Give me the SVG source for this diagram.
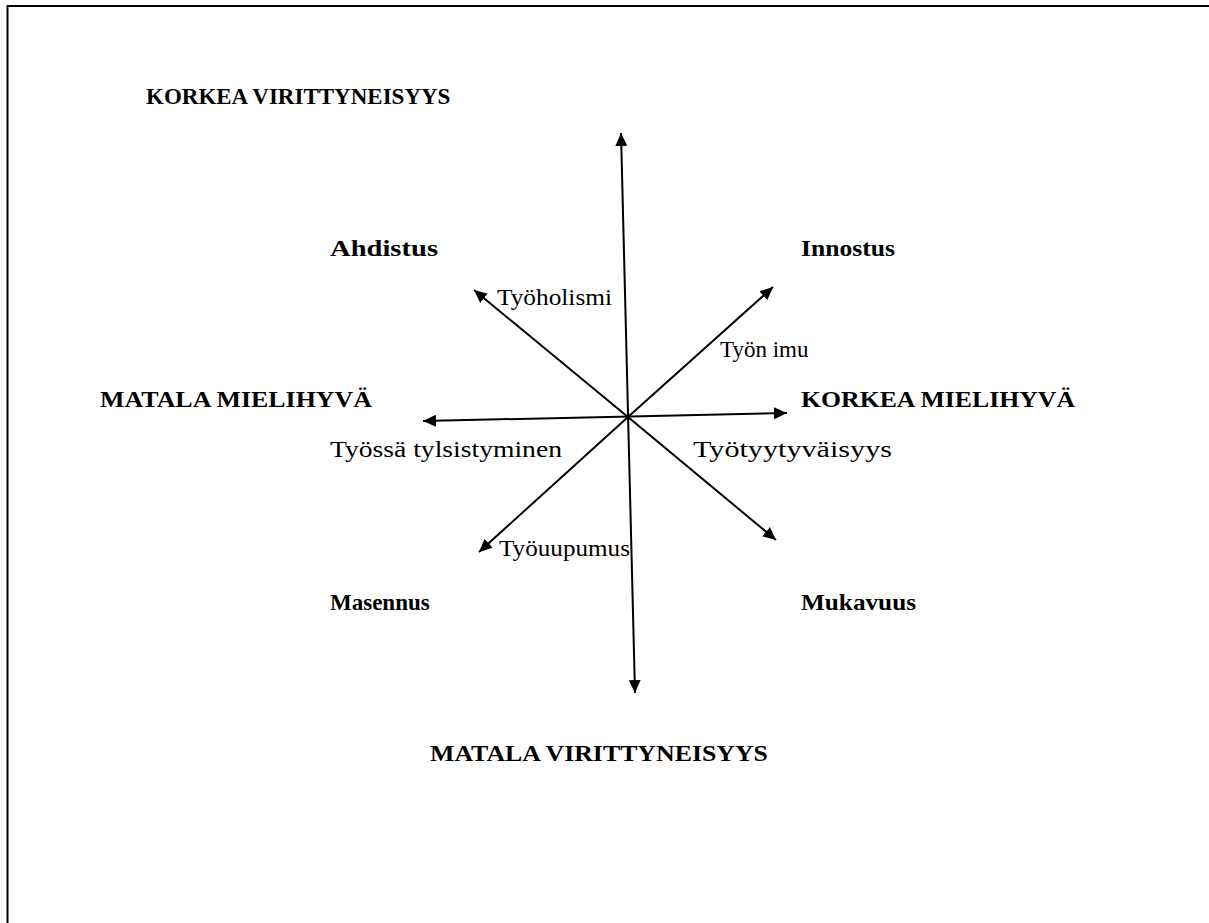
<svg xmlns="http://www.w3.org/2000/svg" width="1209" height="923" viewBox="0 0 1209 923">
<defs>
<marker id="ah" viewBox="0 0 13 12" refX="13" refY="6" markerWidth="13" markerHeight="12" markerUnits="userSpaceOnUse" orient="auto-start-reverse">
<path d="M0,0 L13,6 L0,12 z" fill="#000"/>
</marker>
<style>
.b{font-family:"Liberation Serif","Times New Roman",serif;font-weight:bold;font-size:23px;fill:#000}
.n{font-family:"Liberation Serif","Times New Roman",serif;font-size:23px;fill:#000}
.ax{stroke:#000;stroke-width:2;fill:none}
</style>
</defs>
<rect width="1209" height="923" fill="#fff"/>
<g id="frame">
<line x1="7.5" y1="6" x2="1209" y2="6" stroke="#000" stroke-width="2"/>
<line x1="7.5" y1="5" x2="7.5" y2="923" stroke="#000" stroke-width="2"/>
</g>
<g id="connectors">
<line class="ax" x1="635" y1="693" x2="621" y2="133" marker-start="url(#ah)" marker-end="url(#ah)"/>
<line class="ax" x1="423" y1="421" x2="787" y2="413" marker-start="url(#ah)" marker-end="url(#ah)"/>
<line class="ax" x1="628" y1="417" x2="474" y2="290" marker-end="url(#ah)"/>
<line class="ax" x1="628" y1="417" x2="773" y2="287" marker-end="url(#ah)"/>
<line class="ax" x1="628" y1="417" x2="479" y2="552" marker-end="url(#ah)"/>
<line class="ax" x1="628" y1="417" x2="776" y2="540" marker-end="url(#ah)"/>
</g>
<g id="korkea-virittyneisyys"><text class="b" x="146" y="104">KORKEA VIRITTYNEISYYS</text></g>
<g id="ahdistus"><text class="b" x="330" y="256" textLength="108" lengthAdjust="spacingAndGlyphs">Ahdistus</text></g>
<g id="innostus"><text class="b" x="801" y="256" textLength="94" lengthAdjust="spacingAndGlyphs">Innostus</text></g>
<g id="matala-mielihyva"><text class="b" x="100" y="407" textLength="272" lengthAdjust="spacingAndGlyphs">MATALA MIELIHYVÄ</text></g>
<g id="korkea-mielihyva"><text class="b" x="801" y="407" textLength="274" lengthAdjust="spacingAndGlyphs">KORKEA MIELIHYVÄ</text></g>
<g id="masennus"><text class="b" x="330" y="610">Masennus</text></g>
<g id="mukavuus"><text class="b" x="801" y="610" textLength="115" lengthAdjust="spacingAndGlyphs">Mukavuus</text></g>
<g id="matala-virittyneisyys"><text class="b" x="430" y="761" textLength="338" lengthAdjust="spacingAndGlyphs">MATALA VIRITTYNEISYYS</text></g>
<g id="tyoholismi"><text class="n" x="497" y="305" textLength="115" lengthAdjust="spacingAndGlyphs">Työholismi</text></g>
<g id="tyon-imu"><text class="n" x="720" y="357">Työn imu</text></g>
<g id="tylsistyminen"><text class="n" x="330" y="457" textLength="232" lengthAdjust="spacingAndGlyphs">Työssä tylsistyminen</text></g>
<g id="tyytyvaisyys"><text class="n" x="693" y="457" textLength="199" lengthAdjust="spacingAndGlyphs">Työtyytyväisyys</text></g>
<g id="tyouupumus"><text class="n" x="499" y="556" textLength="131" lengthAdjust="spacingAndGlyphs">Työuupumus</text></g>
</svg>
